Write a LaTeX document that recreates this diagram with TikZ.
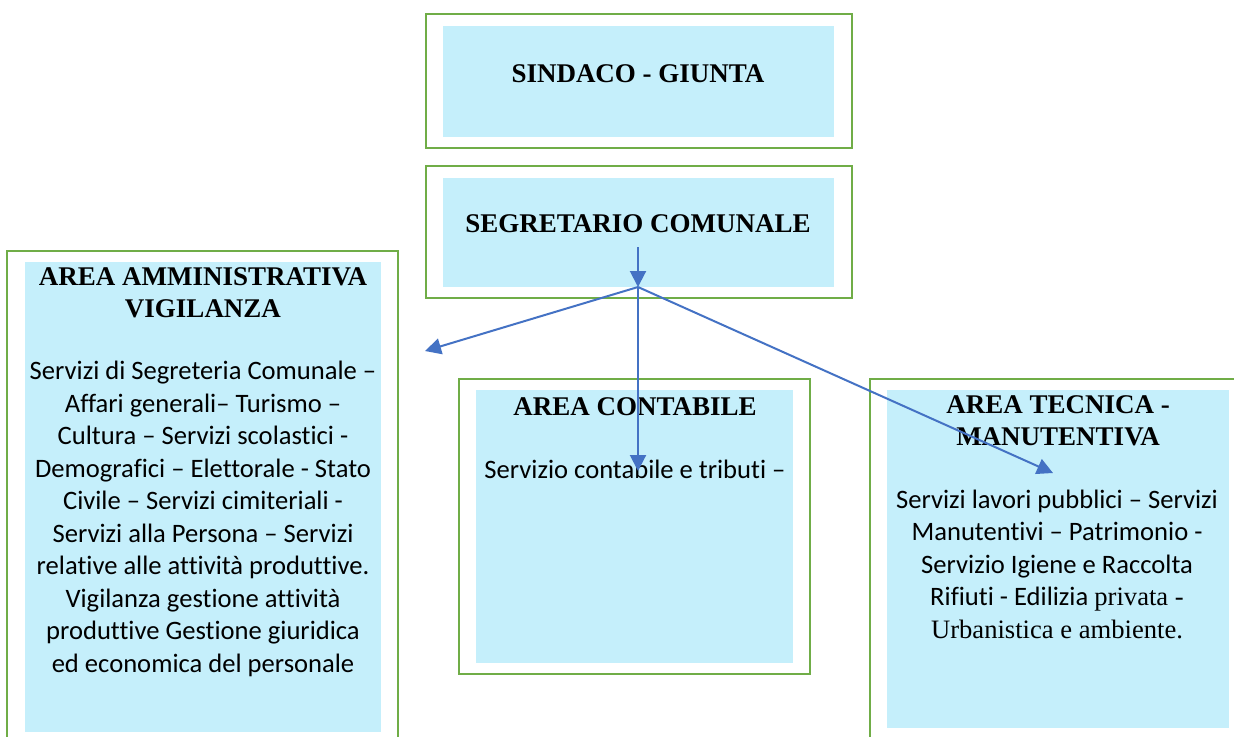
\documentclass[tikz,border=0pt]{standalone}
\usepackage{fontspec}
\setmainfont{Liberation Serif}
\newfontfamily\bodyfont[Ligatures=NoCommon]{Carlito}
\usetikzlibrary{arrows.meta}
\definecolor{boxgreen}{RGB}{112,173,71}
\definecolor{boxfill}{RGB}{197,239,251}
\definecolor{arrowblue}{RGB}{68,114,196}
\tikzstyle{outerbox} = [rectangle, 
draw=boxgreen, 
line width=1.3pt, 
inner sep=0pt]
\tikzstyle{innerbox} = [rectangle, 
fill=boxfill, 
draw=none, 
inner sep=0pt]
\tikzstyle{title} = [font=\bfseries\fontsize{13.5}{16}\selectfont, 
align=center, 
inner sep=0pt]
\tikzstyle{body} = [font=\bodyfont\fontsize{13.3}{16.25}\selectfont, 
align=center, 
inner sep=0pt]
\tikzstyle{arrow} = [line width=1pt, draw=arrowblue, -{Triangle[length=8pt,width=8pt]}]

\begin{document}
\begin{tikzpicture}[x=0.5pt, y=-0.5pt]
\clip (0,0) rectangle (1234,736);
% boxes
\node (sindacoout) [outerbox, minimum width=213pt, minimum height=67pt] at (639,81) {};
\node (sindacoin) [innerbox, minimum width=195.5pt, minimum height=55.5pt] at (638.5,81.5) {};
\node (segrout) [outerbox, minimum width=213pt, minimum height=66pt] at (639,232) {};
\node (segrin) [innerbox, minimum width=195.5pt, minimum height=54.5pt] at (638.5,232.5) {};
\node (ammout) [outerbox, minimum width=195.5pt, minimum height=254.5pt] at (202.5,505.5) {};
\node (ammin) [innerbox, minimum width=178pt, minimum height=235pt] at (203,497) {};
\node (contout) [outerbox, minimum width=175.5pt, minimum height=147.5pt] at (634.5,526.5) {};
\node (contin) [innerbox, minimum width=158.5pt, minimum height=136.5pt] at (634.5,526.5) {};
\node (tecout) [outerbox, minimum width=195pt, minimum height=190.5pt] at (1065,569.5) {};
\node (tecin) [innerbox, minimum width=171pt, minimum height=169pt] at (1058,559) {};

% texts (base = last line)
\node (sindaco) [title, anchor=base] at (638,82) {SINDACO - GIUNTA};
\node (segr) [title, anchor=base] at (638,232) {SEGRETARIO COMUNALE};
\node (amm) [title, anchor=base] at (203,317) {AREA AMMINISTRATIVA\\VIGILANZA};
\node (ammtext) [body, anchor=base] at (203,672) {Servizi di Segreteria Comunale –\\
Affari generali– Turismo –\\
Cultura – Servizi scolastici -\\
Demografici – Elettorale - Stato\\
Civile – Servizi cimiteriali -\\
Servizi alla Persona – Servizi\\
relative alle attività produttive.\\
Vigilanza gestione attività\\
produttive Gestione giuridica\\
ed economica del personale};
\node (cont) [title, anchor=base] at (635,415) {AREA CONTABILE};
\node (conttext) [body, anchor=base] at (635,478) {Servizio contabile e tributi –};
\node (tec) [title, anchor=base] at (1058,445) {AREA TECNICA -\\MANUTENTIVA};
\node (tectext) [body, anchor=base] at (1057,638) {Servizi lavori pubblici – Servizi\\
Manutentivi – Patrimonio -\\
Servizio Igiene e Raccolta\\
Rifiuti - Edilizia {\rmfamily privata -}\\
{\rmfamily Urbanistica e ambiente.}};

% connectors
\coordinate (segrstart) at (638,247);
\coordinate (hub) at (638,287);
\coordinate (ammtip) at (425,351);
\coordinate (conttip) at (638,471);
\coordinate (tectip) at (1053,473);
\draw [arrow] (segrstart) -- (hub);
\draw [arrow] (hub) -- (ammtip);
\draw [arrow] (hub) -- (conttip);
\draw [arrow] (hub) -- (tectip);

\end{tikzpicture}
\end{document}
